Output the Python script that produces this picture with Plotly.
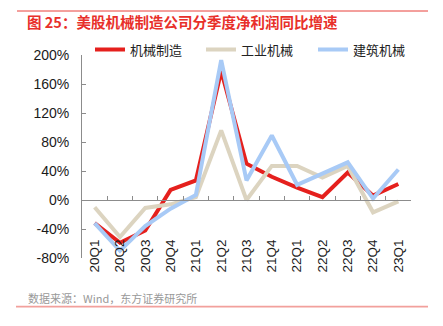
import plotly.graph_objects as go

# Quarterly YoY net profit growth (%) of US-listed machinery companies
quarters = ["20Q1", "20Q2", "20Q3", "20Q4", "21Q1", "21Q2", "21Q3",
            "21Q4", "22Q1", "22Q2", "22Q3", "22Q4", "23Q1"]
machinery_mfg = [-32, -59, -42, 14, 27, 178, 50, 32, 17, 4, 38, 6, 22]
industrial_mach = [-10, -51, -11, -6, 4, 96, 0, 47, 47, 31, 47, -17, -2]
construction_mach = [-32, -70, -36, -12, 7, 193, 27, 89, 21, 37, 52, 2, 42]

series_names = ["机械制造", "工业机械", "建筑机械"]
series_colors = ["#E5201D", "#DCD4C0", "#A8CAF6"]

y_tick_vals = [-80, -40, 0, 40, 80, 120, 160, 200]
y_tick_text = ["-80%", "-40%", "0%", "40%", "80%", "120%", "160%", "200%"]

W, H = 443, 326
ML, MR, MT, MB = 82, 32, 55, 68
PW, PH = W - ML - MR, H - MT - MB


def px_x(p):
    return (p - ML) / PW


def px_y(p):
    return (H - MB - p) / PH


latin = "Liberation Sans, Arial, sans-serif"
cjk = "Noto Sans CJK SC, sans-serif"

legend_ids = ["legend", "legend2", "legend3"]
legend_left_px = [90, 201, 313]

fig = go.Figure()
for name, vals, col, lg in zip(series_names,
                               [machinery_mfg, industrial_mach, construction_mach],
                               series_colors, legend_ids):
    fig.add_trace(go.Scatter(x=list(range(len(quarters))), y=vals, name=name,
                             mode="lines", line=dict(color=col, width=4),
                             legend=lg, hoverinfo="skip"))

y_lo, y_hi = y_tick_vals[0], y_tick_vals[-1]
zero_pos = (0 - y_lo) / (y_hi - y_lo)
x_range = [-0.5, len(quarters) - 0.5]

legend_style = dict(orientation="h", xanchor="left",
                    y=px_y(49.5), yanchor="middle",
                    font=dict(family=cjk, size=13, color="#222"),
                    bgcolor="rgba(0,0,0,0)", itemwidth=30)

fig.update_layout(
    width=W, height=H,
    margin=dict(l=ML, r=MR, t=MT, b=MB),
    paper_bgcolor="white", plot_bgcolor="white",
    showlegend=True,
    title=dict(text="<b>图 25：美股机械制造公司分季度净利润同比增速</b>",
               x=27 / W, xanchor="left", y=1 - 22.7 / H, yanchor="middle",
               font=dict(family=cjk, size=14.5, color="#E8302A")),
    xaxis=dict(range=x_range, tickmode="array",
               tickvals=list(range(len(quarters))), ticktext=quarters,
               tickangle=-90, anchor="free", position=0.11,
               showline=False, ticks="", showgrid=False, zeroline=False,
               tickfont=dict(family=latin, size=13.5, color="#1a1a1a")),
    xaxis2=dict(range=x_range, overlaying="x", anchor="free",
                position=zero_pos, side="bottom",
                tickmode="array",
                tickvals=[i - 0.5 for i in range(len(quarters) + 1)],
                showticklabels=False, ticks="inside", ticklen=4,
                tickcolor="#8c8c8c", showline=True, linecolor="#8c8c8c",
                linewidth=1, showgrid=False, zeroline=False),
    yaxis=dict(range=[y_lo, y_hi], tickmode="array", tickvals=y_tick_vals,
               ticktext=y_tick_text, ticks="inside", ticklen=4,
               tickcolor="#8c8c8c", showline=True, linecolor="#8c8c8c",
               linewidth=1, showgrid=False, zeroline=False,
               ticklabelstandoff=9,
               tickfont=dict(family=latin, size=14, color="#1a1a1a")),
)
for lg, left in zip(legend_ids, legend_left_px):
    fig.update_layout({lg: dict(legend_style, x=px_x(left))})

# Invisible helper trace so the boundary-tick axis is rendered
fig.add_trace(go.Scatter(x=[x_range[0]], y=[0], xaxis="x2", yaxis="y",
                         mode="markers", marker=dict(opacity=0),
                         showlegend=False, hoverinfo="skip"))

# Top rule, bottom rule and source note
fig.add_shape(type="line", xref="paper", yref="paper",
              x0=px_x(17), x1=px_x(428), y0=px_y(11), y1=px_y(11),
              line=dict(color="#E8403A", width=1))
fig.add_shape(type="line", xref="paper", yref="paper",
              x0=px_x(16), x1=px_x(428), y0=px_y(306.7), y1=px_y(306.7),
              line=dict(color="#F2A09C", width=1.8))
fig.add_annotation(text="数据来源：Wind，东方证券研究所", xref="paper", yref="paper",
                   x=px_x(26), y=px_y(298.3), xanchor="left", yanchor="middle",
                   showarrow=False,
                   font=dict(family=cjk, size=11, color="#999999"))

fig.write_html("out.html")
